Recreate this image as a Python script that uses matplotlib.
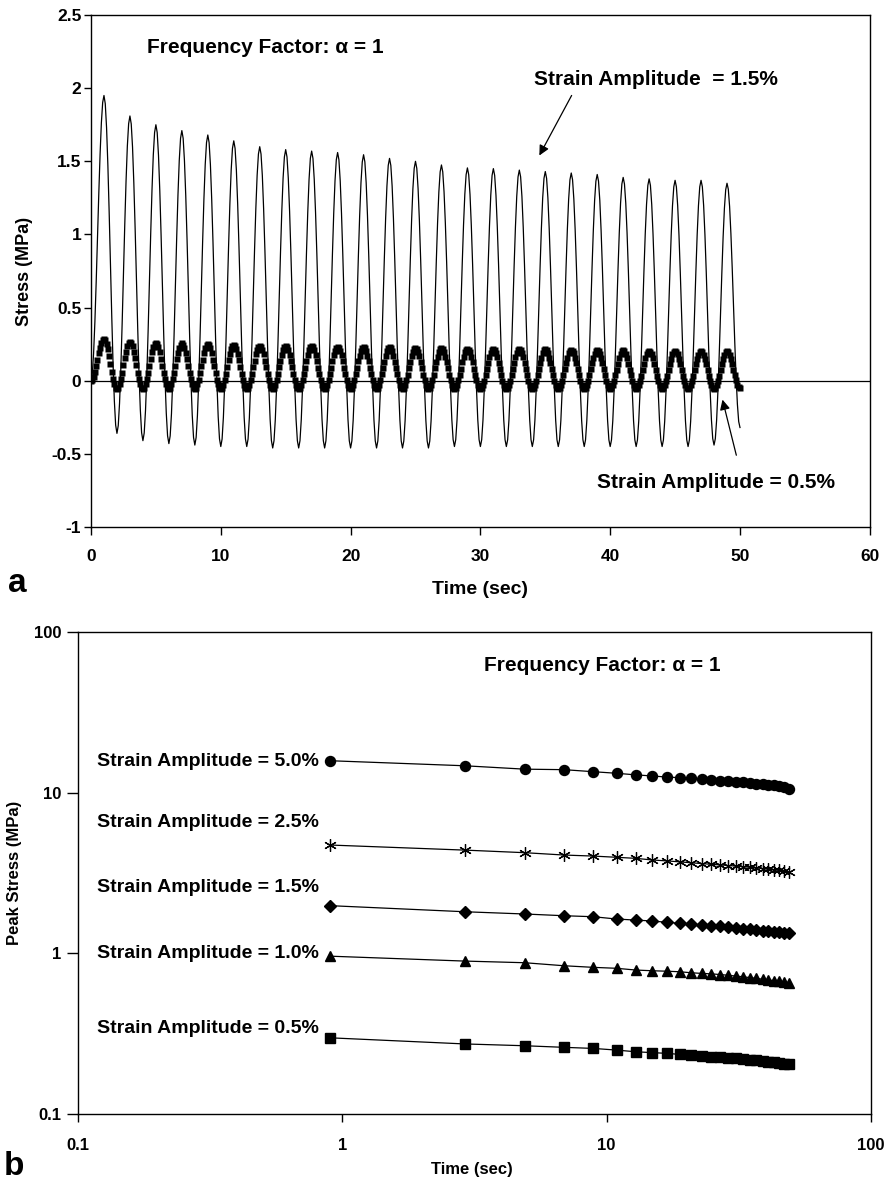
import numpy as np
import matplotlib
matplotlib.use("Agg")
import matplotlib.pyplot as plt
from matplotlib.ticker import FixedLocator, NullLocator, FixedFormatter

plt.rcParams['font.family'] = ['Liberation Sans', 'DejaVu Sans']
plt.rcParams['font.weight'] = 'bold'

# ---------------- Panel a data (extremes) ----------------
peak_times = [1 + 2 * k for k in range(25)]
trough_times = [2 + 2 * k for k in range(24)]
end_time = 50.0

peaks_15 = [1.95, 1.81, 1.75, 1.71, 1.68, 1.64, 1.60, 1.58, 1.57, 1.56, 1.545, 1.52,
            1.50, 1.475, 1.455, 1.45, 1.44, 1.43, 1.42, 1.41, 1.39, 1.38, 1.37, 1.37, 1.35]
troughs_15 = [-0.36, -0.41, -0.43, -0.44, -0.45, -0.45, -0.46, -0.46, -0.46, -0.46, -0.46, -0.46,
              -0.46, -0.45, -0.45, -0.45, -0.45, -0.45, -0.45, -0.45, -0.45, -0.45, -0.45, -0.44]
end_15 = -0.32

peaks_05 = [0.285, 0.265, 0.26, 0.255, 0.25, 0.245, 0.24, 0.238, 0.235, 0.232, 0.23, 0.228,
            0.225, 0.222, 0.22, 0.218, 0.216, 0.214, 0.212, 0.21, 0.208, 0.206, 0.204, 0.202, 0.20]
troughs_05 = [-0.055] * 24
end_05 = -0.05

sample_step = 0.1

# ---------------- Panel b data ----------------
peak_cycle_times = [0.9 + 2 * k for k in range(25)]
amp_50 = [15.8, 14.7, 14.0, 13.9, 13.5, 13.2, 12.9, 12.7, 12.5, 12.4, 12.25, 12.1, 12.0,
          11.9, 11.8, 11.7, 11.6, 11.5, 11.4, 11.3, 11.2, 11.1, 11.0, 10.8, 10.6]
amp_25 = [4.72, 4.39, 4.23, 4.09, 4.03, 3.96, 3.90, 3.81, 3.76, 3.71, 3.66, 3.62, 3.58,
          3.55, 3.52, 3.49, 3.46, 3.43, 3.40, 3.37, 3.34, 3.31, 3.28, 3.25, 3.22]
amp_15 = [1.98, 1.815, 1.757, 1.714, 1.69, 1.635, 1.61, 1.589, 1.56, 1.538, 1.515, 1.50, 1.485,
          1.47, 1.455, 1.44, 1.425, 1.41, 1.40, 1.385, 1.375, 1.36, 1.35, 1.34, 1.33]
amp_10 = [0.96, 0.895, 0.874, 0.837, 0.818, 0.807, 0.787, 0.779, 0.774, 0.768, 0.757, 0.75, 0.745,
          0.738, 0.73, 0.722, 0.714, 0.706, 0.698, 0.69, 0.683, 0.676, 0.669, 0.662, 0.656]
amp_05 = [0.298, 0.273, 0.266, 0.260, 0.256, 0.250, 0.244, 0.241, 0.2385, 0.235, 0.233, 0.230, 0.228,
          0.226, 0.224, 0.222, 0.220, 0.218, 0.216, 0.214, 0.212, 0.210, 0.208, 0.206, 0.205]
series_labels = ["Strain Amplitude = 5.0%", "Strain Amplitude = 2.5%", "Strain Amplitude = 1.5%",
                 "Strain Amplitude = 1.0%", "Strain Amplitude = 0.5%"]


def waveform(peaks, troughs, end_val):
    # ordered extremes: start at 0, then alternate peak / trough
    ts = [0.0]
    vs = [0.0]
    for i in range(len(peaks)):
        ts.append(peak_times[i]); vs.append(peaks[i])
        if i < len(troughs):
            ts.append(trough_times[i]); vs.append(troughs[i])
    ts.append(end_time); vs.append(end_val)
    ts = np.array(ts); vs = np.array(vs)
    t = np.arange(0, end_time + 1e-9, sample_step)
    idx = np.clip(np.searchsorted(ts, t, side='right') - 1, 0, len(ts) - 2)
    frac = (t - ts[idx]) / (ts[idx + 1] - ts[idx])
    y = vs[idx] + (vs[idx + 1] - vs[idx]) * (1 - np.cos(np.pi * frac)) / 2
    return t, y


fig = plt.figure(figsize=(8.86, 11.85), dpi=100)

# ---------------- Panel a ----------------
ax1 = fig.add_axes([0.1027, 0.5553, 0.879, 0.432])
t15, y15 = waveform(peaks_15, troughs_15, end_15)
t05, y05 = waveform(peaks_05, troughs_05, end_05)
ax1.axhline(0, color='black', lw=0.9, zorder=1)
ax1.plot(t15, y15, color='black', lw=0.9, zorder=2)
ax1.plot(t05, y05, ls='none', marker='s', ms=4.8, mfc='black', mec='none', zorder=3)
ax1.set_xlim(0, 60)
ax1.set_ylim(-1, 2.5)
ax1.set_xticks(np.arange(0, 61, 10))
ax1.set_yticks(np.arange(-1, 2.51, 0.5))
ax1.set_yticklabels(['-1', '-0.5', '0', '0.5', '1', '1.5', '2', '2.5'])
ax1.tick_params(axis='y', direction='out', length=5, width=1, pad=2, labelsize=12.5)
ax1.tick_params(axis='x', direction='out', length=6, width=1, pad=10, labelsize=12.5)
for sp in ax1.spines.values():
    sp.set_linewidth(1.0)
ax1.set_xlabel('Time (sec)', fontsize=14, fontweight='bold')
ax1.set_ylabel('Stress (MPa)', fontsize=13, fontweight='bold')
ax1.xaxis.set_label_coords(0.5, -0.105)
ax1.yaxis.set_label_coords(-0.074, 0.5)

ax1.text(13.4, 2.278, 'Frequency Factor: α = 1', fontsize=15, fontweight='bold',
         ha='center', va='center')
ax1.text(43.5, 2.06, 'Strain Amplitude  = 1.5%', fontsize=15, fontweight='bold',
         ha='center', va='center')
ax1.annotate('', xy=(34.44, 1.523), xytext=(37.13, 1.967),
             arrowprops=dict(arrowstyle='-|>', color='black', lw=0.9, mutation_scale=15))
ax1.text(48.15, -0.699, 'Strain Amplitude = 0.5%', fontsize=15, fontweight='bold',
         ha='center', va='center')
ax1.annotate('', xy=(48.6, -0.111), xytext=(49.77, -0.528),
             arrowprops=dict(arrowstyle='-|>', color='black', lw=0.9, mutation_scale=15))

# ---------------- Panel b ----------------
ax2 = fig.add_axes([0.088, 0.0599, 0.895, 0.4068])
ax2.set_xscale('log')
ax2.set_yscale('log')
ax2.plot(peak_cycle_times, amp_50, color='black', lw=0.9, marker='o', ms=7.2, mfc='black', mec='black')
ax2.plot(peak_cycle_times, amp_25, color='black', lw=0.9, marker=(6, 2, 0), ms=9, mfc='none',
         mec='black', mew=0.9)
ax2.plot(peak_cycle_times, amp_15, color='black', lw=0.9, marker='D', ms=6.2, mfc='black', mec='black')
ax2.plot(peak_cycle_times, amp_10, color='black', lw=0.9, marker='^', ms=7.5, mfc='black', mec='black')
ax2.plot(peak_cycle_times, amp_05, color='black', lw=0.9, marker='s', ms=6.5, mfc='black', mec='black')
ax2.set_xlim(0.1, 100)
ax2.set_ylim(0.1, 100)
ax2.xaxis.set_major_locator(FixedLocator([0.1, 1, 10, 100]))
ax2.xaxis.set_major_formatter(FixedFormatter(['0.1', '1', '10', '100']))
ax2.yaxis.set_major_locator(FixedLocator([0.1, 1, 10, 100]))
ax2.yaxis.set_major_formatter(FixedFormatter(['0.1', '1', '10', '100']))
ax2.xaxis.set_minor_locator(NullLocator())
ax2.yaxis.set_minor_locator(NullLocator())
ax2.tick_params(axis='y', direction='out', length=8, width=1, pad=4, labelsize=12)
ax2.tick_params(axis='x', direction='out', length=6, width=1, pad=11, labelsize=12)
for sp in ax2.spines.values():
    sp.set_linewidth(1.0)
ax2.set_xlabel('Time (sec)', fontsize=12, fontweight='bold')
ax2.set_ylabel('Peak Stress (MPa)', fontsize=12, fontweight='bold')
ax2.xaxis.set_label_coords(0.497, -0.1)
ax2.yaxis.set_label_coords(-0.07, 0.5)

ax2.text(0.661, 0.931, 'Frequency Factor: α = 1', fontsize=15, fontweight='bold',
         ha='center', va='center', transform=ax2.transAxes)
label_y = [0.732, 0.604, 0.469, 0.334, 0.178]
for lab, yy in zip(series_labels, label_y):
    ax2.text(0.304, yy, lab, fontsize=14, fontweight='bold', ha='right', va='center',
             transform=ax2.transAxes)

fig.text(0.009, 0.5004, 'a', fontsize=24, fontweight='bold', ha='left', va='baseline')
fig.text(0.004, 0.0084, 'b', fontsize=24, fontweight='bold', ha='left', va='baseline')

fig.savefig('out.png', dpi=100)
